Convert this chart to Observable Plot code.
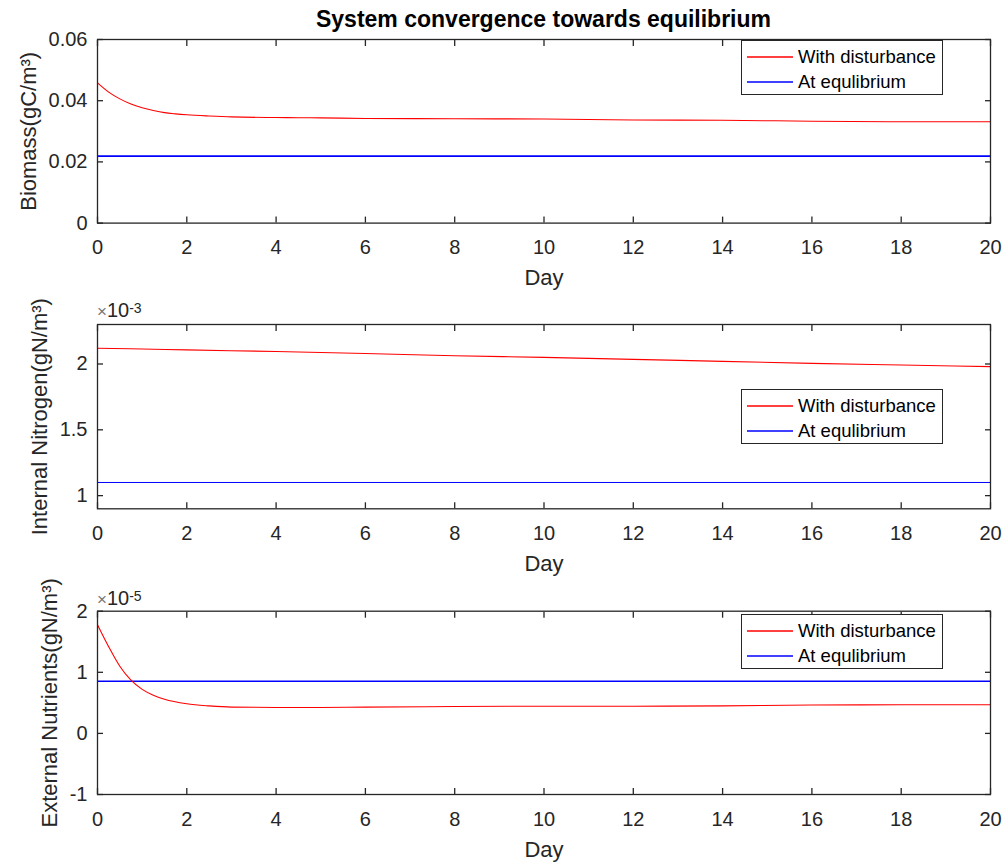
<!DOCTYPE html>
<html>
<head>
<meta charset="utf-8">
<script src="https://cdn.jsdelivr.net/npm/d3@7"></script>
<script src="https://cdn.jsdelivr.net/npm/@observablehq/plot@0.6"></script>
<style>
  html, body { margin: 0; padding: 0; background: #fff; }
  #fig { position: relative; width: 1006px; height: 863px; background: #fff; font-family: "Liberation Sans", Arial, Helvetica, sans-serif; color: #262626; }
  .title { position: absolute; left: 97px; width: 893px; top: 8px; text-align: center; font-weight: bold; font-size: 23px; line-height: 23px; color: #000; }
  .panel { position: absolute; left: 0; width: 1006px; }
  .legend { position: absolute; left: 741px; width: 202px; height: 55px; border: 1px solid #262626; background: #fff; box-sizing: border-box; }
  .legend svg { position: absolute; left: 0; top: 0; }
  .legend .lab { position: absolute; left: 56px; font-size: 18.5px; line-height: 20px; color: #000; white-space: nowrap; }
  .expo { position: absolute; left: 97px; font-size: 20px; line-height: 20px; color: #262626; white-space: nowrap; }
  .expo .x { color: #777; font-size: 17px; }
  .expo sup { font-size: 14px; position: relative; top: -2px; vertical-align: top; }
</style>
</head>
<body>
<div id="fig"></div>
<script>
// ---- Data ----
const titleText = "System convergence towards equilibrium";
const xLabel = "Day";
const xTicks = [0, 2, 4, 6, 8, 10, 12, 14, 16, 18, 20];
const seriesNames = ["With disturbance", "At equlibrium"];
const seriesColors = ["#ff0000", "#0000ff"];

// Panel 1: Biomass (gC/m3)
const biomassLabel = "Biomass(gC/m³)";
const biomassDays = [0, 0.25, 0.5, 0.75, 1, 1.25, 1.5, 1.75, 2, 2.5, 3, 4, 5, 6, 8, 10, 12, 14, 16, 18, 20];
const biomassDisturbed = [0.0458, 0.0428, 0.0406, 0.0389, 0.0377, 0.0368, 0.0361, 0.0357, 0.0354, 0.0350, 0.0347, 0.0345, 0.0344, 0.0342, 0.0341, 0.0340, 0.0337, 0.0336, 0.0333, 0.0331, 0.0331];
const biomassEquilibrium = 0.0219;
const biomassDomain = [0, 0.06];
const biomassTicks = [0, 0.02, 0.04, 0.06];
const biomassTickLabels = ["0", "0.02", "0.04", "0.06"];

// Panel 2: Internal Nitrogen (gN/m3)
const nitrogenLabel = "Internal Nitrogen(gN/m³)";
const nitrogenDays = [0, 1, 2, 4, 6, 8, 10, 12, 14, 16, 18, 20];
const nitrogenDisturbed = [2.120e-3, 2.114e-3, 2.107e-3, 2.095e-3, 2.080e-3, 2.063e-3, 2.050e-3, 2.035e-3, 2.020e-3, 2.005e-3, 1.992e-3, 1.980e-3];
const nitrogenEquilibrium = 1.10e-3;
const nitrogenDomain = [0.9e-3, 2.3e-3];
const nitrogenTicks = [1e-3, 1.5e-3, 2e-3];
const nitrogenTickLabels = ["1", "1.5", "2"];
const nitrogenExponent = "-3";

// Panel 3: External Nutrients (gN/m3)
const nutrientLabel = "External Nutrients(gN/m³)";
const nutrientDays = [0, 0.25, 0.5, 0.75, 1, 1.25, 1.5, 2, 2.5, 3, 4, 5, 6, 8, 10, 12, 14, 16, 18, 20];
const nutrientDisturbed = [1.78e-5, 1.42e-5, 1.10e-5, 0.87e-5, 0.72e-5, 0.625e-5, 0.56e-5, 0.485e-5, 0.45e-5, 0.43e-5, 0.425e-5, 0.425e-5, 0.43e-5, 0.44e-5, 0.445e-5, 0.445e-5, 0.45e-5, 0.465e-5, 0.468e-5, 0.468e-5];
const nutrientEquilibrium = 0.854e-5;
const nutrientDomain = [-1e-5, 2e-5];
const nutrientTicks = [-1e-5, 0, 1e-5, 2e-5];
const nutrientTickLabels = ["-1", "0", "1", "2"];
const nutrientExponent = "-5";

// ---- Drawing ----
const fig = document.getElementById("fig");
const FONT = "'Liberation Sans', Arial, Helvetica, sans-serif";
const AX = "#262626";
const WIDTH = 1006, ML = 97, MR = 16, TICK = 6;

const title = document.createElement("div");
title.className = "title";
title.textContent = titleText;
fig.appendChild(title);

function panel({top, height, marginTop, marginBottom, days, values, eq, domain, ticks, tickLabels, label, labelDx, eqWidth}) {
  const rows = days.map((d, i) => ({day: d, value: values[i]}));
  const fmt = d => tickLabels[ticks.findIndex(t => Math.abs(t - d) < 1e-12)] ?? "";
  const chart = Plot.plot({
    width: WIDTH,
    height,
    marginLeft: ML,
    marginRight: MR,
    marginTop,
    marginBottom,
    style: {fontFamily: FONT, fontSize: "20px", overflow: "visible"},
    x: {domain: [0, 20]},
    y: {domain},
    marks: [
      Plot.ruleY([eq], {stroke: seriesColors[1], strokeWidth: eqWidth}),
      Plot.line(rows, {x: "day", y: "value", stroke: seriesColors[0], strokeWidth: 1.1, curve: "monotone-x"}),
      Plot.frame({stroke: AX, strokeWidth: 1.3}),
      // inward ticks on all four sides (negative tick size points into the frame)
      Plot.axisX({ticks: xTicks, anchor: "bottom", tickSize: -TICK, tickFormat: () => "", stroke: AX, strokeWidth: 1.3, label: null}),
      Plot.axisX({ticks: xTicks, anchor: "top", tickSize: -TICK, tickFormat: () => "", stroke: AX, strokeWidth: 1.3, label: null}),
      Plot.axisY({ticks, anchor: "left", tickSize: -TICK, tickFormat: () => "", stroke: AX, strokeWidth: 1.3, label: null}),
      Plot.axisY({ticks, anchor: "right", tickSize: -TICK, tickFormat: () => "", stroke: AX, strokeWidth: 1.3, label: null}),
      // tick labels
      Plot.axisX({ticks: xTicks, anchor: "bottom", tickSize: 0, tickPadding: 17, tickFormat: d => String(d), fontSize: 20, fill: AX, label: null}),
      Plot.axisY({ticks, anchor: "left", tickSize: 0, tickPadding: 10, tickFormat: fmt, fontSize: 20, fill: AX, label: null}),
      // axis titles
      Plot.text([xLabel], {frameAnchor: "bottom", dy: 55, lineAnchor: "middle", fontSize: 22, fill: AX, text: d => d}),
      Plot.text([label], {frameAnchor: "left", dx: labelDx, rotate: -90, lineAnchor: "middle", textAnchor: "middle", fontSize: 22, fill: AX, text: d => d})
    ]
  });
  const wrap = document.createElement("div");
  wrap.className = "panel";
  wrap.style.top = top + "px";
  wrap.appendChild(chart);
  fig.appendChild(wrap);
}

function legend(top) {
  const box = document.createElement("div");
  box.className = "legend";
  box.style.top = top + "px";
  const ns = "http://www.w3.org/2000/svg";
  const svg = document.createElementNS(ns, "svg");
  svg.setAttribute("width", 200);
  svg.setAttribute("height", 53);
  seriesNames.forEach((name, i) => {
    const ln = document.createElementNS(ns, "line");
    ln.setAttribute("x1", 5);
    ln.setAttribute("x2", 51);
    ln.setAttribute("y1", 16 + i * 25);
    ln.setAttribute("y2", 16 + i * 25);
    ln.setAttribute("stroke", seriesColors[i]);
    ln.setAttribute("stroke-width", 1.5);
    svg.appendChild(ln);
    const lab = document.createElement("div");
    lab.className = "lab";
    lab.style.top = (6 + i * 25) + "px";
    lab.textContent = name;
    box.appendChild(lab);
  });
  box.appendChild(svg);
  fig.appendChild(box);
}

function exponent(top, e) {
  const el = document.createElement("div");
  el.className = "expo";
  el.style.top = top + "px";
  el.innerHTML = `<span class="x">×</span>10<sup>${e}</sup>`;
  fig.appendChild(el);
}

panel({top: 30, height: 265, marginTop: 9, marginBottom: 72.4, days: biomassDays, values: biomassDisturbed, eq: biomassEquilibrium, domain: biomassDomain, ticks: biomassTicks, tickLabels: biomassTickLabels, label: biomassLabel, labelDx: -69, eqWidth: 1.6});
panel({top: 295, height: 280, marginTop: 29, marginBottom: 66.7, days: nitrogenDays, values: nitrogenDisturbed, eq: nitrogenEquilibrium, domain: nitrogenDomain, ticks: nitrogenTicks, tickLabels: nitrogenTickLabels, label: nitrogenLabel, labelDx: -58, eqWidth: 1});
panel({top: 575, height: 288, marginTop: 35.7, marginBottom: 69, days: nutrientDays, values: nutrientDisturbed, eq: nutrientEquilibrium, domain: nutrientDomain, ticks: nutrientTicks, tickLabels: nutrientTickLabels, label: nutrientLabel, labelDx: -48, eqWidth: 1.6});

legend(40);
legend(389);
legend(614);
exponent(300, nitrogenExponent);
exponent(588, nutrientExponent);
</script>
</body>
</html>
